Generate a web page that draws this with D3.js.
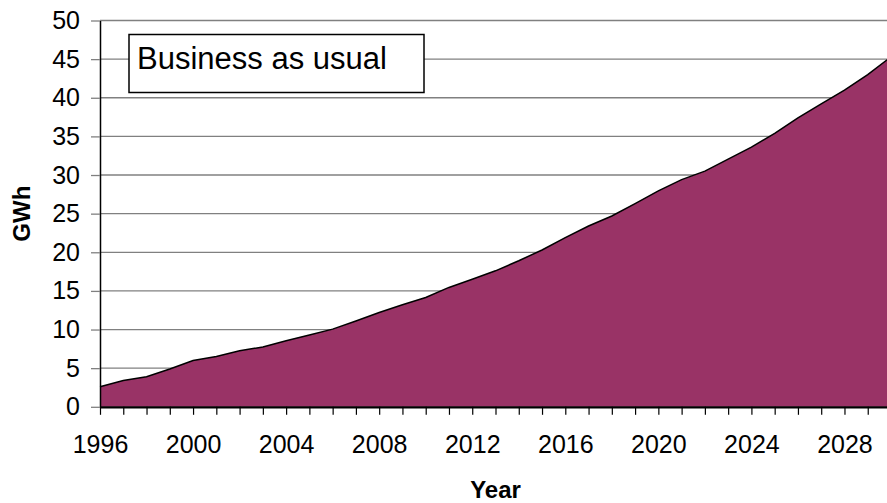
<!DOCTYPE html>
<html>
<head>
<meta charset="utf-8">
<script src="https://cdn.jsdelivr.net/npm/d3@7"></script>
<style>
    html, body { margin: 0; padding: 0; background: #ffffff; }
    svg { display: block; font-family: 'Liberation Sans', Arial, sans-serif; }
</style>
</head>
<body>
<div id="chart"></div>
<script>
// Data
const years = [1996, 1997, 1998, 1999, 2000, 2001, 2002, 2003, 2004, 2005,
    2006, 2007, 2008, 2009, 2010, 2011, 2012, 2013, 2014, 2015,
    2016, 2017, 2018, 2019, 2020, 2021, 2022, 2023, 2024, 2025,
    2026, 2027, 2028, 2029, 2030];
const gwh = [2.6, 3.4, 3.9, 4.9, 6.0, 6.5, 7.25, 7.75, 8.55, 9.3,
    10.05, 11.1, 12.2, 13.2, 14.15, 15.45, 16.5, 17.6, 18.9, 20.3,
    21.9, 23.4, 24.7, 26.3, 27.95, 29.4, 30.5, 32.05, 33.6, 35.4,
    37.4, 39.2, 41.0, 43.0, 45.3];
const yTicks = [0, 5, 10, 15, 20, 25, 30, 35, 40, 45, 50];
const xLabels = [1996, 2000, 2004, 2008, 2012, 2016, 2020, 2024, 2028];
const scenario = 'Business as usual';

const data = years.map((y, i) => ({ year: y, value: gwh[i] }));

// Size of the frame
const width = 887;
const height = 503;

// plot area edges
const plotLeft = 100;
const plotRight = 891;
const plotTop = 20.5;
const plotBottom = 406.8;

const svg = d3.select('#chart')
    .append('svg')
    .attr('width', width)
    .attr('height', height);

const x = d3.scaleLinear()
    .domain([1996, 2030])
    .range([plotLeft, plotRight]);

const y = d3.scaleLinear()
    .domain([0, 50])
    .range([plotBottom, plotTop]);

// Gridlines
svg.append('g')
    .selectAll('line')
    .data(yTicks.filter(d => d > 0))
    .enter()
    .append('line')
    .attr('x1', plotLeft)
    .attr('x2', width)
    .attr('y1', d => y(d))
    .attr('y2', d => y(d))
    .attr('stroke', '#808080')
    .attr('stroke-width', 1.3);

// Area
const area = d3.area()
    .x(d => x(d.year))
    .y0(y(0))
    .y1(d => y(d.value));

svg.append('path')
    .datum(data)
    .attr('d', area)
    .attr('fill', '#993366');

const line = d3.line()
    .x(d => x(d.year))
    .y(d => y(d.value));

svg.append('path')
    .datum(data)
    .attr('d', line)
    .attr('fill', 'none')
    .attr('stroke', '#000000')
    .attr('stroke-width', 1.5);

// x axis, tick every year, label every 4 years
const xAxis = d3.axisBottom(x)
    .tickValues(years)
    .tickSizeInner(8)
    .tickSizeOuter(0)
    .tickFormat(d => xLabels.includes(d) ? d : '');

const xAxisGroup = svg.append('g')
    .attr('transform', `translate(0, ${plotBottom})`)
    .call(xAxis);

xAxisGroup.select('.domain')
    .attr('stroke', '#000')
    .attr('stroke-width', 2.2);
xAxisGroup.selectAll('.tick line')
    .attr('stroke', '#000')
    .attr('stroke-width', 1.2);
xAxisGroup.selectAll('.tick text')
    .attr('y', 0)
    .attr('dy', 0)
    .attr('transform', 'translate(0, 46)')
    .attr('font-size', '25px')
    .attr('font-family', 'Liberation Sans, Arial, sans-serif')
    .attr('fill', '#000');

// y axis
const yAxis = d3.axisLeft(y)
    .tickValues(yTicks)
    .tickSizeInner(9)
    .tickSizeOuter(0)
    .tickPadding(11);

const yAxisGroup = svg.append('g')
    .attr('transform', `translate(${plotLeft}, 0)`)
    .call(yAxis);

yAxisGroup.select('.domain')
    .attr('stroke', '#000')
    .attr('stroke-width', 1.5);
yAxisGroup.selectAll('.tick line')
    .attr('stroke', '#808080')
    .attr('stroke-width', 1.3);
yAxisGroup.selectAll('.tick text')
    .attr('font-size', '25px')
    .attr('font-family', 'Liberation Sans, Arial, sans-serif')
    .attr('fill', '#000');

// Axis titles
svg.append('text')
    .attr('x', (plotLeft + plotRight) / 2)
    .attr('y', 498)
    .attr('text-anchor', 'middle')
    .attr('font-size', '24px')
    .attr('font-weight', 'bold')
    .text('Year');

svg.append('text')
    .attr('transform', `translate(30, ${(plotTop + plotBottom) / 2}) rotate(-90)`)
    .attr('text-anchor', 'middle')
    .attr('font-size', '24px')
    .attr('font-weight', 'bold')
    .text('GWh');

// Scenario box
const box = svg.append('g');
box.append('rect')
    .attr('x', 129)
    .attr('y', 34.5)
    .attr('width', 295)
    .attr('height', 58)
    .attr('fill', '#fff')
    .attr('stroke', '#000')
    .attr('stroke-width', 1.5);
box.append('text')
    .attr('x', 137)
    .attr('y', 68.5)
    .attr('font-size', '31px')
    .text(scenario);
</script>
</body>
</html>
